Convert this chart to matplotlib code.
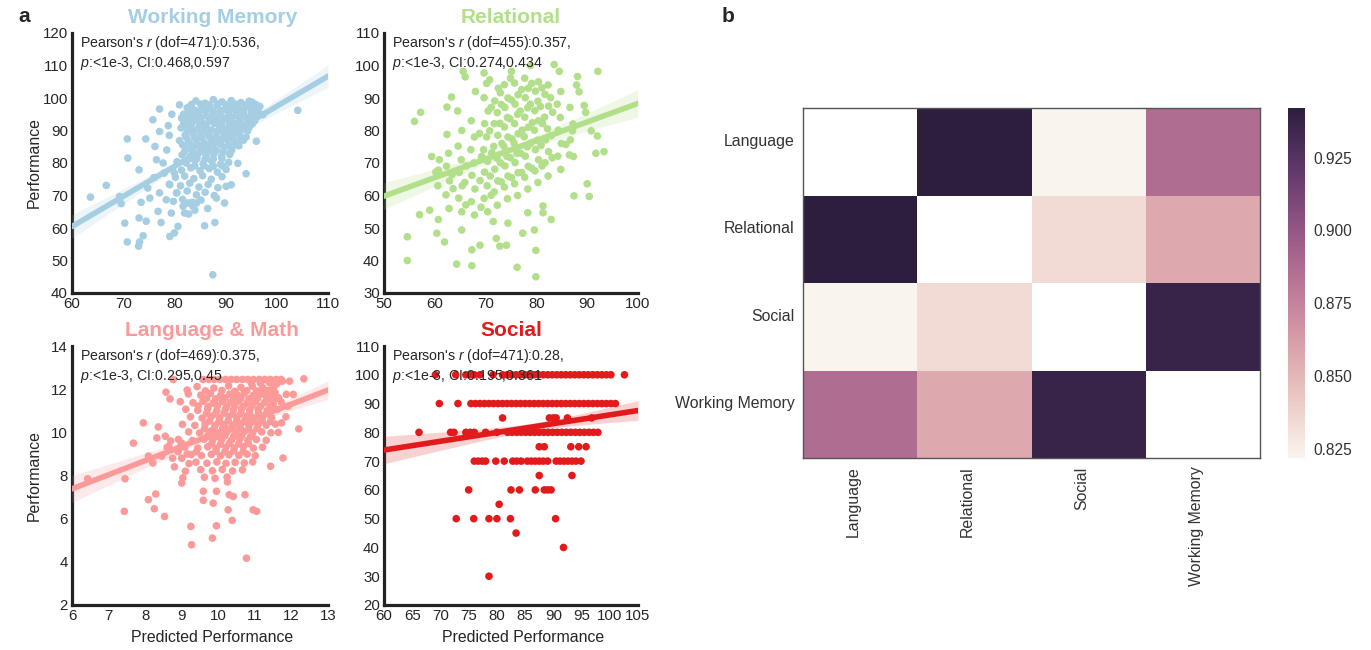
import numpy as np
import matplotlib
matplotlib.use("Agg")
import matplotlib.pyplot as plt
from matplotlib.ticker import MultipleLocator, FormatStrFormatter
import seaborn as sns

sns.set_style("white")
plt.rcParams['font.family'] = ['Liberation Sans', 'DejaVu Sans']
plt.rcParams['mathtext.fontset'] = 'custom'
plt.rcParams['mathtext.it'] = 'Liberation Sans:italic'
plt.rcParams['mathtext.rm'] = 'Liberation Sans'
plt.rcParams['text.color'] = '#262626'

# ---------------- data ----------------
# Working Memory: (predicted, observed)
wm_points = [
    (63.6, 69.5), (66.7, 73.1), (69.3, 69.7), (69.6, 67.5), (70.3, 61.5), (70.8, 55.7), (70.9, 81.5),
    (70.8, 87.4), (73.0, 54.4), (73.2, 55.7), (73.9, 57.6), (73.1, 63.1), (73.5, 67.9), (73.1, 77.9),
    (74.4, 87.4), (74.8, 72.3), (75.2, 69.2), (74.5, 62.1), (75.8, 93.3), (77.1, 96.6), (76.8, 65.1),
    (77.4, 61.7), (77.1, 70.8), (76.5, 81.0), (76.2, 85.1), (77.1, 89.7), (79.1, 57.4), (80.0, 58.5),
    (80.7, 60.5), (79.4, 64.6), (78.4, 68.7), (79.1, 73.3), (80.0, 76.9), (78.0, 76.9), (80.4, 70.8),
    (81.0, 97.9), (81.4, 93.8), (81.7, 66.7), (82.0, 64.6), (82.7, 67.7), (83.6, 66.7), (84.3, 67.7),
    (85.9, 60.7), (87.9, 61.7), (87.5, 45.6), (89.8, 67.7), (88.2, 69.2), (90.1, 72.8), (91.1, 73.3),
    (94.0, 76.7), (104.1, 96.2), (95.2, 98.7), (96.7, 97.4), (97.3, 94.9), (96.0, 86.7), (93.1, 87.2),
    (93.7, 90.8), (78.5, 84.0), (79.0, 88.5), (77.8, 80.0), (76.0, 75.5), (78.8, 91.5), (79.5, 95.0),
    (84.2, 99.1), (86.0, 98.4), (87.6, 99.5), (89.3, 98.8), (91.1, 99.2), (93.0, 98.6), (94.6, 99.0),
    (82.5, 97.0), (83.9, 96.3), (85.4, 97.4), (86.9, 96.6), (88.3, 97.6), (89.8, 96.5), (91.3, 97.3),
    (92.7, 96.4), (94.2, 97.5), (95.5, 96.8), (81.8, 95.0), (83.2, 94.2), (84.7, 95.3), (86.2, 94.5),
    (87.7, 95.4), (89.2, 94.3), (90.6, 95.5), (92.1, 94.6), (93.5, 95.2), (95.0, 94.4), (96.4, 95.6),
    (82.6, 92.6), (84.0, 93.4), (85.5, 92.2), (87.0, 93.2), (88.5, 92.4), (90.0, 93.6), (91.4, 92.5),
    (92.9, 93.3), (94.3, 92.2), (95.7, 93.0), (81.3, 90.8), (82.9, 91.0), (84.4, 90.3), (85.9, 91.2),
    (87.3, 90.1), (88.8, 91.3), (90.3, 90.4), (91.7, 91.1), (93.2, 90.2), (94.6, 91.0), (82.1, 88.6),
    (83.6, 89.2), (85.1, 88.3), (86.6, 89.0), (88.1, 88.2), (89.6, 89.3), (91.0, 88.4), (92.5, 89.1),
    (94.0, 88.0), (81.0, 86.9), (82.8, 86.4), (84.3, 87.1), (85.8, 86.2), (87.3, 87.0), (88.8, 86.3),
    (90.3, 87.2), (91.8, 86.5), (93.5, 87.0), (82.2, 84.3), (83.8, 85.0), (85.3, 84.2), (86.8, 84.9),
    (88.2, 84.0), (89.7, 84.8), (91.2, 84.1), (92.6, 85.3), (81.5, 82.5), (83.1, 82.0), (84.6, 82.8),
    (86.2, 82.1), (87.7, 82.9), (89.2, 82.0), (90.8, 82.6), (80.5, 80.4), (82.3, 80.0), (84.0, 80.7),
    (85.6, 79.8), (87.3, 80.5), (89.0, 79.6), (90.6, 80.2), (92.4, 79.9), (79.6, 78.2), (81.4, 77.8),
    (83.2, 78.5), (85.0, 77.6), (86.8, 78.3), (88.4, 77.2), (90.1, 78.0), (80.2, 75.6), (82.0, 76.0),
    (83.8, 75.2), (85.5, 76.1), (87.2, 75.0), (89.3, 75.8), (79.0, 73.5), (81.2, 73.0), (83.0, 73.8),
    (84.8, 72.6), (86.6, 73.4), (88.5, 72.4), (80.5, 70.8), (82.5, 71.4), (84.3, 70.2), (86.0, 71.0),
    (87.8, 70.0), (79.8, 68.2), (81.6, 68.8), (83.5, 67.9), (85.2, 68.6), (84.0, 65.5), (86.5, 66.0),
    (82.8, 64.3),
    (83.3, 98.0), (85.1, 98.1), (86.8, 97.9), (88.5, 98.2), (90.2, 97.9), (92.0, 98.1), (93.8, 97.8),
    (95.9, 98.0), (82.9, 96.0), (84.5, 95.9), (86.0, 96.1), (87.5, 95.8), (89.0, 96.1), (90.5, 95.9),
    (92.0, 96.0), (93.5, 96.2), (95.0, 95.8), (82.2, 94.0), (83.7, 94.1), (85.2, 93.9), (86.8, 94.0),
    (88.2, 94.2), (89.7, 93.8), (91.2, 94.1), (92.7, 93.9), (94.2, 94.0), (95.8, 94.1), (81.8, 92.0),
    (83.4, 92.1), (84.9, 91.9), (86.3, 92.0), (87.8, 92.2), (89.3, 91.8), (90.8, 92.0), (92.3, 92.1),
    (93.8, 91.9), (95.2, 92.0), (82.5, 89.9), (84.0, 90.0), (85.5, 89.8), (87.0, 90.1), (88.5, 89.9),
    (90.0, 90.0), (91.5, 89.8), (93.0, 90.1), (94.3, 89.9), (82.4, 87.8), (83.9, 87.9), (85.4, 87.7),
    (86.9, 87.9), (88.4, 87.8), (89.9, 88.0), (91.4, 87.7), (92.9, 87.9), (81.6, 85.6), (83.1, 85.7),
    (84.6, 85.5), (86.1, 85.7), (87.6, 85.6), (89.1, 85.8), (90.6, 85.5), (92.0, 85.7), (82.0, 83.5),
    (83.5, 83.6), (85.0, 83.4), (86.5, 83.5), (88.0, 83.6), (89.5, 83.4), (91.0, 83.5), (82.8, 81.3),
    (84.4, 81.4), (86.0, 81.2), (87.6, 81.3), (89.3, 81.4), (84.0, 79.1), (85.8, 79.2), (87.6, 79.0),
    (89.4, 79.1),
]

# Relational
rel_points = [
    (54.6, 40.0), (54.6, 47.3), (56.0, 82.8), (57.2, 85.6), (57.0, 54.1), (59.0, 55.5), (59.4, 72.0),
    (60.4, 48.4), (60.7, 52.6), (61.9, 45.7), (60.7, 67.8), (62.4, 87.2), (62.4, 78.8), (63.3, 90.3),
    (64.3, 38.9), (65.3, 49.4), (65.6, 98.2), (67.3, 38.4), (67.3, 43.3), (68.9, 44.7), (69.7, 97.7),
    (70.2, 94.5), (70.8, 95.6), (71.5, 52.0), (72.1, 46.8), (72.8, 44.4), (74.1, 44.7), (74.4, 51.5),
    (75.1, 98.2), (76.2, 37.9), (77.3, 48.4), (78.3, 54.7), (78.8, 100.0), (79.9, 35.0), (79.9, 43.1),
    (79.6, 49.4), (81.3, 56.8), (81.3, 54.7), (82.9, 52.6), (83.5, 100.3), (84.5, 98.2), (87.4, 59.9),
    (88.1, 96.6), (87.9, 94.0), (88.4, 91.9), (89.4, 87.7), (89.7, 85.6), (90.0, 63.6), (90.4, 59.7),
    (90.8, 79.9), (92.0, 78.3), (92.1, 98.2), (91.7, 73.0), (93.3, 73.5), (86.5, 72.5), (87.1, 79.9),
    (85.8, 75.7), (66.0, 96.5), (68.0, 92.0), (64.5, 86.0),
    (60.6, 63.0), (60.2, 67.2), (60.9, 71.0),
    (62.8, 56.0), (62.2, 60.2), (62.9, 64.5), (62.3, 69.0), (62.7, 73.0),
    (65.3, 55.0), (64.7, 59.2), (65.4, 63.0), (64.8, 67.1), (65.2, 71.0), (64.6, 75.2), (65.3, 80.0),
    (67.8, 54.0), (67.2, 58.1), (67.9, 62.0), (67.3, 66.2), (67.7, 70.0), (67.1, 74.1), (67.8, 78.0),
    (67.2, 83.0), (70.4, 55.0), (69.7, 59.1), (70.3, 63.0), (69.8, 67.2), (70.4, 70.5), (69.6, 74.1),
    (70.2, 78.0), (69.8, 82.1), (70.5, 86.0), (69.7, 90.1), (72.3, 57.0), (71.7, 61.1), (72.4, 64.5),
    (71.8, 68.1), (72.2, 71.5), (71.6, 75.1), (72.4, 78.5), (71.7, 82.1), (72.3, 85.5), (71.8, 89.1),
    (72.5, 93.0), (74.3, 59.0), (73.7, 62.6), (74.4, 66.0), (73.8, 69.1), (74.2, 72.0), (73.6, 75.1),
    (74.4, 78.0), (73.7, 81.1), (74.3, 84.0), (73.8, 87.1), (74.4, 90.0), (73.7, 94.1), (76.3, 60.0),
    (75.7, 63.6), (76.4, 67.0), (75.8, 70.1), (76.2, 73.0), (75.6, 76.1), (76.4, 79.0), (75.7, 82.1),
    (76.3, 85.0), (75.8, 88.1), (76.4, 91.0), (75.7, 94.6), (78.3, 62.0), (77.7, 65.6), (78.4, 69.0),
    (77.8, 72.1), (78.2, 75.0), (77.6, 78.1), (78.4, 81.0), (77.7, 84.1), (78.3, 87.0), (77.8, 90.1),
    (78.4, 93.0), (77.7, 96.1), (80.3, 64.0), (79.7, 67.6), (80.4, 71.0), (79.8, 74.1), (80.2, 77.0),
    (79.6, 80.1), (80.4, 83.0), (79.7, 86.1), (80.3, 89.0), (79.8, 92.1), (80.4, 95.0), (82.3, 66.0),
    (81.7, 70.1), (82.4, 73.5), (81.8, 77.1), (82.2, 80.5), (81.6, 84.1), (82.4, 87.5), (81.7, 91.1),
    (82.3, 94.0), (84.8, 68.0), (84.2, 72.1), (84.9, 76.0), (84.3, 80.1), (84.7, 84.0), (84.1, 88.1),
    (84.8, 92.0), (87.3, 72.0), (86.7, 77.1), (87.2, 82.0), (86.6, 87.1),
    (73.1, 64.2), (72.9, 70.1), (73.2, 76.0), (72.8, 82.2), (73.1, 88.0), (72.9, 91.6),
    (75.1, 65.5), (74.9, 71.6), (75.2, 77.4), (74.8, 83.6), (75.1, 89.4), (74.9, 96.1),
    (77.1, 67.1), (76.9, 73.0), (77.2, 80.1), (76.8, 86.0), (77.1, 92.6),
    (79.1, 68.4), (78.9, 76.1), (79.2, 82.4), (78.8, 88.1), (79.1, 94.5),
    (81.1, 69.1), (80.9, 75.4), (81.2, 82.1), (80.8, 87.4), (81.1, 93.1),
    (83.1, 71.6), (82.9, 78.4), (83.2, 85.6), (82.8, 90.1),
    (71.1, 60.1), (70.9, 66.0), (71.2, 73.1), (70.8, 79.9), (71.1, 87.1),
    (69.1, 56.4), (68.9, 64.6), (69.2, 72.0), (68.8, 79.1),
    (66.1, 57.1), (65.9, 64.0), (66.2, 69.1), (63.6, 62.1), (63.4, 66.4),
]

# Language & Math
lang_points = [
    (6.43, 7.85), (7.45, 7.85), (7.43, 6.34), (7.68, 9.5), (7.95, 10.44), (8.09, 6.88), (8.25, 6.46),
    (8.29, 7.14), (8.09, 8.9), (8.21, 8.58), (8.32, 9.74), (8.36, 10.25), (8.53, 6.1), (8.77, 12.45),
    (8.57, 11.86), (8.68, 11.55), (8.55, 9.82), (8.65, 9.36), (8.45, 8.9), (9.0, 7.65), (9.03, 7.89),
    (9.15, 11.96), (9.25, 5.64), (9.27, 4.79), (9.59, 7.27), (9.59, 6.85), (9.86, 6.72), (9.84, 5.1),
    (9.95, 5.67), (9.95, 7.27), (10.27, 6.41), (10.3, 7.11), (10.41, 7.03), (10.38, 5.92), (10.25, 7.7),
    (10.73, 7.11), (10.77, 4.17), (10.95, 6.41), (11.05, 6.34), (11.43, 8.43), (11.64, 10.0), (11.77, 8.81),
    (11.73, 10.44), (11.85, 10.72), (11.9, 11.21), (11.86, 11.76), (11.75, 12.37), (11.95, 12.37),
    (12.2, 10.16), (12.34, 12.48), (12.05, 11.76), (8.9, 9.1), (8.75, 8.8), (9.0, 9.5), (8.6, 9.3),
    (9.58, 12.45), (9.74, 12.45), (9.89, 12.45), (10.04, 12.45), (10.2, 12.45), (10.35, 12.45),
    (10.5, 12.45), (10.66, 12.45), (10.81, 12.45), (10.96, 12.45), (11.12, 12.45), (11.27, 12.45),
    (11.42, 12.45), (11.58, 12.45), (11.72, 12.45),
    (9.42, 12.12), (9.88, 12.05), (10.28, 12.15), (10.62, 12.08), (10.93, 12.14), (11.22, 12.06), (11.52, 12.12),
    (9.18, 11.78), (9.52, 11.72), (9.79, 11.80), (10.06, 11.70), (10.31, 11.77), (10.52, 11.73), (10.71, 11.81),
    (10.96, 11.72), (11.21, 11.79), (11.44, 11.71), (8.96, 11.42), (9.31, 11.37), (9.58, 11.44), (9.86, 11.36),
    (10.12, 11.43), (10.34, 11.38), (10.56, 11.45), (10.79, 11.36), (11.02, 11.42), (11.26, 11.37), (11.49, 11.44),
    (11.72, 11.40), (9.11, 11.07), (9.44, 11.02), (9.71, 11.08), (9.96, 11.01), (10.19, 11.06), (10.41, 11.03),
    (10.64, 11.09), (10.86, 11.02), (11.09, 11.07), (11.34, 11.01), (11.61, 11.06), (9.24, 10.72), (9.56, 10.66),
    (9.81, 10.74), (10.04, 10.67), (10.29, 10.73), (10.51, 10.68), (10.74, 10.74), (10.99, 10.66), (11.21, 10.72),
    (11.46, 10.68), (9.02, 10.37), (9.36, 10.32), (9.64, 10.38), (9.91, 10.31), (10.16, 10.36), (10.39, 10.33),
    (10.61, 10.39), (10.84, 10.32), (11.09, 10.37), (11.31, 10.33), (11.56, 10.38), (9.19, 10.02), (9.49, 9.97),
    (9.76, 10.04), (10.01, 9.96), (10.24, 10.03), (10.49, 9.98), (10.71, 10.04), (10.94, 9.97), (11.19, 10.02),
    (11.44, 9.98), (8.91, 9.67), (9.29, 9.62), (9.61, 9.68), (9.84, 9.61), (10.09, 9.66), (10.36, 9.63),
    (10.59, 9.69), (10.81, 9.62), (11.04, 9.67), (11.31, 9.63), (9.08, 9.32), (9.44, 9.27), (9.71, 9.33),
    (9.94, 9.26), (10.21, 9.31), (10.44, 9.28), (10.69, 9.34), (10.96, 9.27), (11.21, 9.31), (9.26, 8.97),
    (9.54, 8.92), (9.81, 8.98), (10.06, 8.91), (10.29, 8.96), (10.56, 8.93), (10.79, 8.99), (11.01, 8.92),
    (9.39, 8.62), (9.69, 8.57), (9.96, 8.63), (10.21, 8.56), (10.46, 8.61), (10.71, 8.58), (10.94, 8.63),
    (9.52, 8.27), (9.84, 8.22), (10.11, 8.28), (10.39, 8.21), (10.66, 8.26), (9.62, 7.92), (9.91, 7.87),
    (10.24, 7.93),
    (9.65, 11.92), (10.1, 11.94), (10.45, 11.9), (10.78, 11.93), (11.08, 11.91), (11.38, 11.94),
    (9.68, 11.57), (9.93, 11.55), (10.18, 11.59), (10.42, 11.56), (10.62, 11.58), (10.84, 11.55),
    (11.08, 11.59), (11.33, 11.56), (11.58, 11.58), (9.45, 11.22), (9.72, 11.2), (9.98, 11.24),
    (10.23, 11.21), (10.45, 11.23), (10.68, 11.2), (10.92, 11.24), (11.16, 11.21), (11.42, 11.23),
    (9.68, 10.87), (9.92, 10.85), (10.16, 10.89), (10.4, 10.86), (10.62, 10.88), (10.86, 10.85),
    (11.1, 10.89), (11.34, 10.86), (9.76, 10.52), (10.02, 10.5), (10.27, 10.54), (10.5, 10.51),
    (10.72, 10.53), (10.96, 10.5), (11.2, 10.54), (11.43, 10.51), (9.62, 10.17), (9.88, 10.15),
    (10.12, 10.19), (10.37, 10.16), (10.6, 10.18), (10.83, 10.15), (11.06, 10.19), (9.7, 9.82),
    (9.94, 9.8), (10.18, 9.84), (10.42, 9.81), (10.64, 9.83), (10.88, 9.8), (9.82, 9.47), (10.06, 9.45),
    (10.3, 9.49), (10.56, 9.46), (10.82, 9.48), (9.94, 9.12), (10.18, 9.1), (10.42, 9.14), (10.68, 9.11),
    (8.8, 8.4), (9.0, 8.8), (9.15, 9.0), (8.95, 9.3), (9.2, 8.55), (9.4, 9.1), (9.1, 8.2), (8.7, 9.6),
    (10.9, 12.3), (11.15, 12.28), (11.4, 12.3), (11.6, 12.25), (11.05, 11.9), (11.35, 11.85),
    (11.55, 11.85), (11.65, 11.6), (11.3, 11.7), (11.5, 11.3),
]

# Social: observed score -> predicted values on that row
soc_rows = {
    100: [69.1, 72.7, 74.5, 75.3, 76.0, 77.0, 79.3, 81.0, 81.8, 82.6, 83.4, 84.2, 85.0, 85.8, 86.6, 87.4,
          88.2, 89.0, 89.8, 90.6, 91.4, 92.2, 93.0, 93.8, 94.6, 95.4, 96.2, 97.0, 97.8, 98.6, 99.4, 100.2, 102.6],
    90: [69.8, 73.1, 75.4, 76.2, 77.0, 77.8, 78.6, 79.4, 80.2, 81.0, 81.8, 82.6, 83.4, 84.2, 85.0, 85.8, 86.6,
         87.4, 88.2, 89.0, 89.8, 90.6, 91.4, 92.2, 93.0, 93.8, 94.6, 95.4, 96.2, 97.0, 97.8, 98.6, 99.4, 100.2, 101.0],
    85: [81.0, 89.3, 90.0, 90.5, 92.5, 96.8],
    80: [66.2, 71.8, 72.4, 74.5, 75.3, 76.0, 78.0, 80.0, 81.9, 82.7, 83.5, 84.3, 85.1, 85.9, 86.7, 87.5, 88.3,
         89.1, 89.9, 90.7, 91.5, 92.3, 93.1, 93.9, 94.7, 95.5, 96.3, 97.1, 97.9],
    75: [87.5, 88.4, 93.1, 94.5, 95.8],
    70: [76.0, 76.7, 77.4, 78.0, 79.8, 81.3, 82.8, 83.5, 84.3, 85.4, 86.1, 86.8, 87.5, 88.2, 89.0, 90.5, 91.2,
         91.9, 92.6, 93.3, 94.0, 94.9],
    65: [87.5, 93.3],
    60: [75.0, 82.5, 84.0, 86.8, 88.4, 89.0, 89.6],
    55: [80.4],
    50: [72.8, 75.9, 78.6, 80.0, 82.4, 90.4],
    45: [83.4],
    40: [91.8],
    30: [78.6],
}
soc_points = [(p, s) for s, preds in soc_rows.items() for p in preds]

panel_titles = ["Working Memory", "Relational", "Language & Math", "Social"]
panel_colors = ["#a6cee3", "#b2df8a", "#fb9a99", "#e31a1c"]
panel_dof = [471, 455, 469, 471]
panel_r = ["0.536", "0.357", "0.375", "0.28"]
panel_ci = ["0.468,0.597", "0.274,0.434", "0.295,0.45", "0.195,0.361"]
panel_xlim = [(60, 110), (50, 100), (6, 13), (60, 105)]
panel_ylim = [(40, 120), (30, 110), (2, 14), (20, 110)]
panel_xstep = [10, 10, 1, 5]
panel_ystep = [10, 10, 2, 10]
panel_data = [wm_points, rel_points, lang_points, soc_points]

# correlation between networks (panel b)
networks = ["Language", "Relational", "Social", "Working Memory"]
corr = np.array([
    [1.0, 0.942, 0.822, 0.887],
    [0.942, 1.0, 0.834, 0.857],
    [0.822, 0.834, 1.0, 0.937],
    [0.887, 0.857, 0.937, 1.0],
])

# ---------------- figure ----------------
W, H = 1371, 650
fig = plt.figure(figsize=(W / 100, H / 100), dpi=100)


def px_axes(left, top, right, bottom):
    return fig.add_axes([left / W, 1 - bottom / H, (right - left) / W, (bottom - top) / H])


boxes = [(72, 33, 328, 293), (384, 33, 638, 293), (72, 346, 328, 605), (384, 346, 638, 605)]
title_x = [0.55, 0.50, 0.545, 0.50]

for i in range(4):
    ax = px_axes(*boxes[i])
    pts = np.array(panel_data[i])
    x, y = pts[:, 0], pts[:, 1]
    col = panel_colors[i]
    ax.scatter(x, y, s=30, color=col, edgecolor='none', zorder=2)

    # linear fit + 95% CI of the mean (sample size taken from dof)
    b, a = np.polyfit(x, y, 1)
    xs = np.linspace(panel_xlim[i][0], panel_xlim[i][1], 100)
    yhat = a + b * xs
    n_eff = panel_dof[i] + 2
    s = np.sqrt(np.sum((y - (a + b * x)) ** 2) / (len(x) - 2))
    sxx = np.sum((x - x.mean()) ** 2) * n_eff / len(x)
    half = 1.96 * s * np.sqrt(1 / n_eff + (xs - x.mean()) ** 2 / sxx)
    ax.fill_between(xs, yhat - half, yhat + half, color=col, alpha=0.2, lw=0, zorder=3)
    ax.plot(xs, yhat, color=col, lw=4, zorder=4)

    ax.set_xlim(*panel_xlim[i])
    ax.set_ylim(*panel_ylim[i])
    ax.xaxis.set_major_locator(MultipleLocator(panel_xstep[i]))
    ax.yaxis.set_major_locator(MultipleLocator(panel_ystep[i]))
    ax.tick_params(length=0, labelsize=10.8, colors='#262626', pad=3)
    for sp in ['top', 'right']:
        ax.spines[sp].set_visible(False)
    for sp in ['left', 'bottom']:
        ax.spines[sp].set_linewidth(2.3)
        ax.spines[sp].set_color('#222222')

    ax.text(0.03, 0.995, "Pearson's $r$ (dof=%d):%s,\n$p$:<1e-3, CI:%s" % (panel_dof[i], panel_r[i], panel_ci[i]),
            transform=ax.transAxes, ha='left', va='top', fontsize=10.2, linespacing=1.2, zorder=5)
    ax.text(title_x[i], 1.058, panel_titles[i], transform=ax.transAxes, ha='center', va='center',
            fontsize=15, fontweight='bold', color=col)
    if i in (0, 2):
        ax.set_ylabel("Performance", fontsize=11.4)
        ax.yaxis.set_label_coords(-0.12, 0.5)
    if i in (2, 3):
        ax.set_xlabel("Predicted Performance", fontsize=11.4)
        ax.xaxis.set_label_coords(0.547, -0.095)

# heatmap
hax = px_axes(803, 108, 1260, 458)
cax = px_axes(1288, 108, 1305, 458)
cmap = sns.cubehelix_palette(light=0.96, dark=0.15, as_cmap=True)
mask = np.eye(len(networks), dtype=bool)
sns.heatmap(corr, mask=mask, cmap=cmap, ax=hax, cbar_ax=cax,
            xticklabels=networks, yticklabels=networks)
hax.set_yticks(np.arange(len(networks)) + 0.38)
hax.set_yticklabels(networks, rotation=0, fontsize=11.4)
hax.set_xticks(np.arange(len(networks)) + 0.44)
hax.set_xticklabels(networks, rotation=90, fontsize=11.4)
hax.tick_params(length=0, pad=6, colors='#333333')
for sp in hax.spines.values():
    sp.set_visible(True)
    sp.set_linewidth(1.0)
    sp.set_color('#555555')
cax.yaxis.set_major_locator(MultipleLocator(0.025))
cax.yaxis.set_major_formatter(FormatStrFormatter('%.3f'))
cax.tick_params(length=0, labelsize=11.2, pad=6, colors='#333333')

fig.text(18 / W, 1 - 17 / H, "a", fontsize=15, fontweight='bold', va='center', ha='left')
fig.text(722 / W, 1 - 17 / H, "b", fontsize=15, fontweight='bold', va='center', ha='left')

fig.savefig("out.png", dpi=100)
